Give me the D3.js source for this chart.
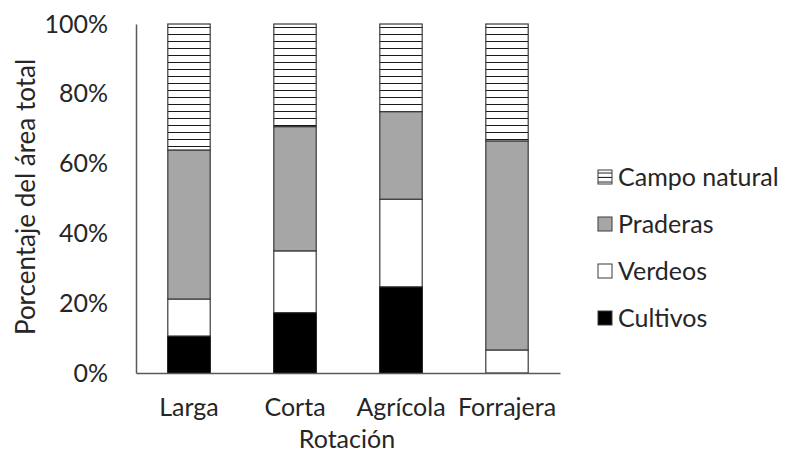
<!DOCTYPE html>
<html>
<head>
<meta charset="utf-8">
<script src="https://cdn.jsdelivr.net/npm/d3@7"></script>
<style>
  html, body { margin: 0; padding: 0; background: #fff; }
  svg { display: block; }
  text { font-family: Lato, "Open Sans", sans-serif; fill: #262626; }
</style>
</head>
<body>
<svg id="chart" width="789" height="462"></svg>
<script>
// Rotation types and share of total area for each land use (fractions of 1)
const categories = ["Larga", "Corta", "Agrícola", "Forrajera"];
const cultivos     = [0.106, 0.173, 0.247, 0.000];
const verdeos      = [0.106, 0.177, 0.251, 0.066];
const praderas     = [0.427, 0.356, 0.251, 0.599];
const campoNatural = [0.361, 0.294, 0.251, 0.335];
const seriesNames = ["Cultivos", "Verdeos", "Praderas", "Campo natural"];
const yTicks = [0, 0.2, 0.4, 0.6, 0.8, 1.0];

const rows = categories.map((c, i) => ({
  cat: c,
  "Cultivos": cultivos[i],
  "Verdeos": verdeos[i],
  "Praderas": praderas[i],
  "Campo natural": campoNatural[i]
}));

const FS = "25px";
const svg = d3.select("#chart");

// hatch fill for "Campo natural"
const defs = svg.append("defs");
const pat = defs.append("pattern")
  .attr("id", "hatch")
  .attr("patternUnits", "userSpaceOnUse")
  .attr("width", 10).attr("height", 7);
pat.append("rect").attr("width", 10).attr("height", 7).attr("fill", "#fff");
pat.append("line")
  .attr("x1", 0).attr("x2", 10).attr("y1", 6.5).attr("y2", 6.5)
  .attr("stroke", "#1a1a1a").attr("stroke-width", 1);

const legPat = defs.append("pattern")
  .attr("id", "hatchLegend")
  .attr("patternUnits", "userSpaceOnUse")
  .attr("width", 14).attr("height", 4.5)
  .attr("y", 170);
legPat.append("rect").attr("width", 14).attr("height", 4.5).attr("fill", "#fff");
legPat.append("line")
  .attr("x1", 0).attr("x2", 14).attr("y1", 4).attr("y2", 4)
  .attr("stroke", "#1a1a1a").attr("stroke-width", 1);

const fills = {
  "Cultivos": "#000000",
  "Verdeos": "#ffffff",
  "Praderas": "#a6a6a6",
  "Campo natural": "url(#hatch)"
};
const legendFills = Object.assign({}, fills, { "Campo natural": "url(#hatchLegend)" });

const x = d3.scaleBand().domain(categories).range([136, 560])
  .paddingInner(0.6).paddingOuter(0.3);
const y = d3.scaleLinear().domain([0, 1]).range([373, 24]);

const stack = d3.stack().keys(seriesNames);
const stacked = stack(rows);

// bars
const layers = svg.append("g").selectAll("g")
  .data(stacked)
  .join("g")
  .attr("fill", d => fills[d.key]);

layers.selectAll("rect")
  .data(d => d.filter(p => p[1] - p[0] > 0).map(p => Object.assign(p, { key: d.key })))
  .join("rect")
  .attr("x", d => x(d.data.cat))
  .attr("width", x.bandwidth())
  .attr("y", d => y(d[1]))
  .attr("height", d => y(d[0]) - y(d[1]))
  .attr("stroke", d => d.key === "Cultivos" ? "#000" : "#3a3a3a")
  .attr("stroke-width", 1.2);

// y axis
const yAxis = d3.axisLeft(y).tickValues(yTicks)
  .tickFormat(d3.format(".0%")).tickSize(0).tickPadding(28);
const gy = svg.append("g").attr("transform", "translate(136,0)").call(yAxis);
gy.select(".domain").attr("stroke", "#595959").attr("stroke-width", 1.5);
gy.selectAll(".tick text").style("font-size", FS).attr("fill", "#262626");

// x axis
const xAxis = d3.axisBottom(x).tickSize(0).tickPadding(25);
const gx = svg.append("g").attr("transform", "translate(0,373)").call(xAxis);
gx.select(".domain").attr("stroke", "#595959").attr("stroke-width", 1.5);
gx.selectAll(".tick text").style("font-size", FS).attr("fill", "#262626");

// axis titles
svg.append("text")
  .attr("x", 347).attr("y", 448)
  .attr("text-anchor", "middle")
  .style("font-size", FS)
  .text("Rotación");

svg.append("text")
  .attr("transform", "translate(35,197) rotate(-90)")
  .attr("text-anchor", "middle")
  .style("font-size", "26px")
  .text("Porcentaje del área total");

// legend, top entry first
const legendOrder = seriesNames.slice().reverse();
const leg = svg.append("g").selectAll("g")
  .data(legendOrder)
  .join("g")
  .attr("transform", (d, i) => `translate(598,${170 + i * 47})`);
leg.append("rect")
  .attr("width", 14).attr("height", 14)
  .attr("fill", d => legendFills[d])
  .attr("stroke", "#3a3a3a").attr("stroke-width", 1);
leg.append("text")
  .attr("x", 20).attr("y", 7)
  .attr("dy", "0.35em")
  .style("font-size", FS)
  .text(d => d);
</script>
</body>
</html>
